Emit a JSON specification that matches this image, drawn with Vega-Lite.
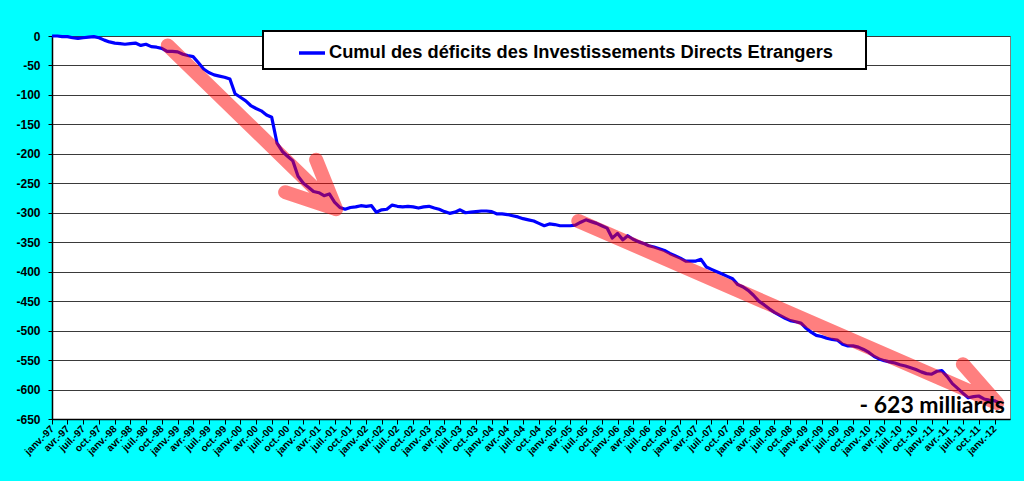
{
  "$schema": "https://vega.github.io/schema/vega-lite/v6.json",
  "width": 958,
  "height": 383,
  "autosize": {"type": "none"},
  "padding": {"left": 52, "top": 36, "right": 14, "bottom": 62},
  "background": "#00FFFF",
  "datasets": {
    "ide": [
      {"d": "1997-01-01", "v": 0}, {"d": "1997-02-01", "v": 0}, {"d": "1997-03-01", "v": -1}, {"d": "1997-04-01", "v": -1},
      {"d": "1997-05-01", "v": -3}, {"d": "1997-06-01", "v": -4}, {"d": "1997-07-01", "v": -3}, {"d": "1997-08-01", "v": -2},
      {"d": "1997-09-01", "v": -1}, {"d": "1997-10-01", "v": -3}, {"d": "1997-11-01", "v": -7}, {"d": "1997-12-01", "v": -10},
      {"d": "1998-01-01", "v": -12}, {"d": "1998-02-01", "v": -13}, {"d": "1998-03-01", "v": -14}, {"d": "1998-04-01", "v": -13},
      {"d": "1998-05-01", "v": -12}, {"d": "1998-06-01", "v": -16}, {"d": "1998-07-01", "v": -14}, {"d": "1998-08-01", "v": -18},
      {"d": "1998-09-01", "v": -19}, {"d": "1998-10-01", "v": -21}, {"d": "1998-11-01", "v": -26}, {"d": "1998-12-01", "v": -26},
      {"d": "1999-01-01", "v": -27}, {"d": "1999-02-01", "v": -31}, {"d": "1999-03-01", "v": -33}, {"d": "1999-04-01", "v": -35},
      {"d": "1999-05-01", "v": -45}, {"d": "1999-06-01", "v": -56}, {"d": "1999-07-01", "v": -62}, {"d": "1999-08-01", "v": -66},
      {"d": "1999-09-01", "v": -68}, {"d": "1999-10-01", "v": -70}, {"d": "1999-11-01", "v": -73}, {"d": "1999-12-01", "v": -98},
      {"d": "2000-01-01", "v": -104}, {"d": "2000-02-01", "v": -110}, {"d": "2000-03-01", "v": -118}, {"d": "2000-04-01", "v": -123},
      {"d": "2000-05-01", "v": -127}, {"d": "2000-06-01", "v": -134}, {"d": "2000-07-01", "v": -138}, {"d": "2000-08-01", "v": -182},
      {"d": "2000-09-01", "v": -196}, {"d": "2000-10-01", "v": -204}, {"d": "2000-11-01", "v": -212}, {"d": "2000-12-01", "v": -238},
      {"d": "2001-01-01", "v": -250}, {"d": "2001-02-01", "v": -257}, {"d": "2001-03-01", "v": -264}, {"d": "2001-04-01", "v": -266},
      {"d": "2001-05-01", "v": -271}, {"d": "2001-06-01", "v": -268}, {"d": "2001-07-01", "v": -282}, {"d": "2001-08-01", "v": -291},
      {"d": "2001-09-01", "v": -294}, {"d": "2001-10-01", "v": -291}, {"d": "2001-11-01", "v": -290}, {"d": "2001-12-01", "v": -288},
      {"d": "2002-01-01", "v": -289}, {"d": "2002-02-01", "v": -288}, {"d": "2002-03-01", "v": -299}, {"d": "2002-04-01", "v": -295},
      {"d": "2002-05-01", "v": -294}, {"d": "2002-06-01", "v": -287}, {"d": "2002-07-01", "v": -289}, {"d": "2002-08-01", "v": -290},
      {"d": "2002-09-01", "v": -289}, {"d": "2002-10-01", "v": -290}, {"d": "2002-11-01", "v": -292}, {"d": "2002-12-01", "v": -290},
      {"d": "2003-01-01", "v": -289}, {"d": "2003-02-01", "v": -292}, {"d": "2003-03-01", "v": -294}, {"d": "2003-04-01", "v": -298},
      {"d": "2003-05-01", "v": -301}, {"d": "2003-06-01", "v": -299}, {"d": "2003-07-01", "v": -295}, {"d": "2003-08-01", "v": -300},
      {"d": "2003-09-01", "v": -299}, {"d": "2003-10-01", "v": -298}, {"d": "2003-11-01", "v": -297}, {"d": "2003-12-01", "v": -297},
      {"d": "2004-01-01", "v": -298}, {"d": "2004-02-01", "v": -302}, {"d": "2004-03-01", "v": -302}, {"d": "2004-04-01", "v": -303},
      {"d": "2004-05-01", "v": -305}, {"d": "2004-06-01", "v": -307}, {"d": "2004-07-01", "v": -310}, {"d": "2004-08-01", "v": -312},
      {"d": "2004-09-01", "v": -314}, {"d": "2004-10-01", "v": -318}, {"d": "2004-11-01", "v": -322}, {"d": "2004-12-01", "v": -319},
      {"d": "2005-01-01", "v": -320}, {"d": "2005-02-01", "v": -322}, {"d": "2005-03-01", "v": -322}, {"d": "2005-04-01", "v": -322},
      {"d": "2005-05-01", "v": -321}, {"d": "2005-06-01", "v": -316}, {"d": "2005-07-01", "v": -312}, {"d": "2005-08-01", "v": -315},
      {"d": "2005-09-01", "v": -318}, {"d": "2005-10-01", "v": -322}, {"d": "2005-11-01", "v": -326}, {"d": "2005-12-01", "v": -343},
      {"d": "2006-01-01", "v": -335}, {"d": "2006-02-01", "v": -346}, {"d": "2006-03-01", "v": -339}, {"d": "2006-04-01", "v": -345},
      {"d": "2006-05-01", "v": -349}, {"d": "2006-06-01", "v": -352}, {"d": "2006-07-01", "v": -356}, {"d": "2006-08-01", "v": -358},
      {"d": "2006-09-01", "v": -361}, {"d": "2006-10-01", "v": -364}, {"d": "2006-11-01", "v": -369}, {"d": "2006-12-01", "v": -373},
      {"d": "2007-01-01", "v": -377}, {"d": "2007-02-01", "v": -382}, {"d": "2007-03-01", "v": -382}, {"d": "2007-04-01", "v": -382},
      {"d": "2007-05-01", "v": -379}, {"d": "2007-06-01", "v": -392}, {"d": "2007-07-01", "v": -396}, {"d": "2007-08-01", "v": -400},
      {"d": "2007-09-01", "v": -404}, {"d": "2007-10-01", "v": -408}, {"d": "2007-11-01", "v": -412}, {"d": "2007-12-01", "v": -422},
      {"d": "2008-01-01", "v": -426}, {"d": "2008-02-01", "v": -432}, {"d": "2008-03-01", "v": -440}, {"d": "2008-04-01", "v": -450},
      {"d": "2008-05-01", "v": -456}, {"d": "2008-06-01", "v": -463}, {"d": "2008-07-01", "v": -469}, {"d": "2008-08-01", "v": -474},
      {"d": "2008-09-01", "v": -479}, {"d": "2008-10-01", "v": -483}, {"d": "2008-11-01", "v": -485}, {"d": "2008-12-01", "v": -487},
      {"d": "2009-01-01", "v": -496}, {"d": "2009-02-01", "v": -503}, {"d": "2009-03-01", "v": -508}, {"d": "2009-04-01", "v": -510},
      {"d": "2009-05-01", "v": -513}, {"d": "2009-06-01", "v": -515}, {"d": "2009-07-01", "v": -516}, {"d": "2009-08-01", "v": -523},
      {"d": "2009-09-01", "v": -526}, {"d": "2009-10-01", "v": -526}, {"d": "2009-11-01", "v": -528}, {"d": "2009-12-01", "v": -532},
      {"d": "2010-01-01", "v": -537}, {"d": "2010-02-01", "v": -544}, {"d": "2010-03-01", "v": -548}, {"d": "2010-04-01", "v": -551},
      {"d": "2010-05-01", "v": -553}, {"d": "2010-06-01", "v": -555}, {"d": "2010-07-01", "v": -558}, {"d": "2010-08-01", "v": -560},
      {"d": "2010-09-01", "v": -563}, {"d": "2010-10-01", "v": -566}, {"d": "2010-11-01", "v": -570}, {"d": "2010-12-01", "v": -573},
      {"d": "2011-01-01", "v": -574}, {"d": "2011-02-01", "v": -569}, {"d": "2011-03-01", "v": -568}, {"d": "2011-04-01", "v": -578},
      {"d": "2011-05-01", "v": -590}, {"d": "2011-06-01", "v": -598}, {"d": "2011-07-01", "v": -606}, {"d": "2011-08-01", "v": -614},
      {"d": "2011-09-01", "v": -612}, {"d": "2011-10-01", "v": -611}, {"d": "2011-11-01", "v": -616}, {"d": "2011-12-01", "v": -618},
      {"d": "2012-01-01", "v": -619}, {"d": "2012-02-01", "v": -623}
    ],
    "arrows": [
      {"a": 1, "o": 1, "d": "1998-11-05", "v": -16},
      {"a": 1, "o": 2, "d": "2001-07-10", "v": -294},
      {"a": 1, "o": 3, "d": "2001-03-16", "v": -210},
      {"a": 1, "o": 4, "d": "2001-01-01", "v": null},
      {"a": 1, "o": 5, "d": "2000-09-17", "v": -265},
      {"a": 1, "o": 6, "d": "2001-07-10", "v": -294},
      {"a": 2, "o": 1, "d": "2005-05-18", "v": -314},
      {"a": 2, "o": 2, "d": "2012-01-16", "v": -623},
      {"a": 2, "o": 3, "d": "2011-07-01", "v": -557}
    ],
    "note": [
      {"d": "2012-03-01", "v": -640, "t": "- 623 milliards"}
    ]
  },
  "layer": [
    {
      "data": {"name": "ide"},
      "mark": {"type": "line", "strokeWidth": 3.2, "strokeJoin": "round"},
      "encoding": {
        "x": {
          "field": "d",
          "type": "temporal",
          "title": null,
          "scale": {
            "type": "utc",
            "domain": [
              {"year": 1997, "month": 1, "date": 1, "utc": true},
              {"year": 2012, "month": 3, "date": 31, "utc": true}
            ]
          },
          "axis": {
            "grid": false,
            "tickCount": {"interval": "month", "step": 3},
            "labelExpr": "['janv.', 'avr.', 'juil.', 'oct.'][floor(utcmonth(datum.value) / 3)] + '-' + utcFormat(datum.value, '%y')",
            "labelAngle": -45,
            "labelAlign": "right",
            "labelBaseline": "middle",
            "labelOverlap": false,
            "labelFlush": false,
            "labelBound": false,
            "labelPadding": 3,
            "labelFontSize": 10,
            "tickSize": 5
          }
        },
        "y": {
          "field": "v",
          "type": "quantitative",
          "title": null,
          "scale": {"domain": [-650, 0], "nice": false, "zero": false},
          "axis": {
            "values": [0, -50, -100, -150, -200, -250, -300, -350, -400, -450, -500, -550, -600, -650],
            "tickCount": 20,
            "labelExpr": "'' + datum.value",
            "labelOverlap": false,
            "labelFlush": false,
            "labelBound": false,
            "labelFontSize": 12,
            "labelPadding": 8,
            "tickSize": 4,
            "grid": true,
            "gridColor": "#3a3a3a",
            "gridWidth": 1
          }
        },
        "color": {
          "datum": "Cumul des déficits des Investissements Directs Etrangers",
          "type": "nominal",
          "scale": {"range": ["#0000FF"]},
          "legend": {
            "orient": "none",
            "legendX": 211,
            "legendY": -5,
            "title": null,
            "labelExpr": "datum.label + '\u00a0\u00a0\u00a0\u00a0\u00a0\u200b'"
          }
        }
      }
    },
    {
      "data": {"name": "arrows"},
      "mark": {
        "type": "line",
        "color": "#FF0000",
        "opacity": 0.5,
        "strokeWidth": 14,
        "strokeCap": "round",
        "strokeJoin": "round",
        "invalid": "break-paths-show-domains"
      },
      "encoding": {
        "x": {"field": "d", "type": "temporal", "title": null},
        "y": {"field": "v", "type": "quantitative", "title": null},
        "detail": {"field": "a", "type": "nominal"},
        "order": {"field": "o", "type": "quantitative"}
      }
    },
    {
      "data": {"name": "note"},
      "mark": {
        "type": "text",
        "align": "right",
        "baseline": "alphabetic",
        "font": "Lato",
        "fontWeight": "bold",
        "fontSize": 23,
        "color": "black"
      },
      "encoding": {
        "x": {"field": "d", "type": "temporal", "title": null},
        "y": {"field": "v", "type": "quantitative", "title": null},
        "text": {"field": "t"}
      }
    }
  ],
  "config": {
    "view": {"fill": "white", "stroke": "#808080", "strokeWidth": 1},
    "axis": {
      "labelFont": "Liberation Sans",
      "labelFontWeight": "bold",
      "labelColor": "#000000",
      "domainColor": "#000000",
      "domainWidth": 1.5,
      "tickColor": "#000000",
      "tickWidth": 1
    },
    "legend": {
      "fillColor": "white",
      "strokeColor": "black",
      "strokeWidth": 2,
      "padding": 7,
      "symbolType": "stroke",
      "symbolSize": 676,
      "symbolStrokeWidth": 3.5,
      "symbolOffset": 27,
      "labelFont": "Liberation Sans",
      "labelFontSize": 18.3,
      "labelFontWeight": "bold",
      "labelColor": "black",
      "labelOffset": 2,
      "labelLimit": 800
    }
  }
}
